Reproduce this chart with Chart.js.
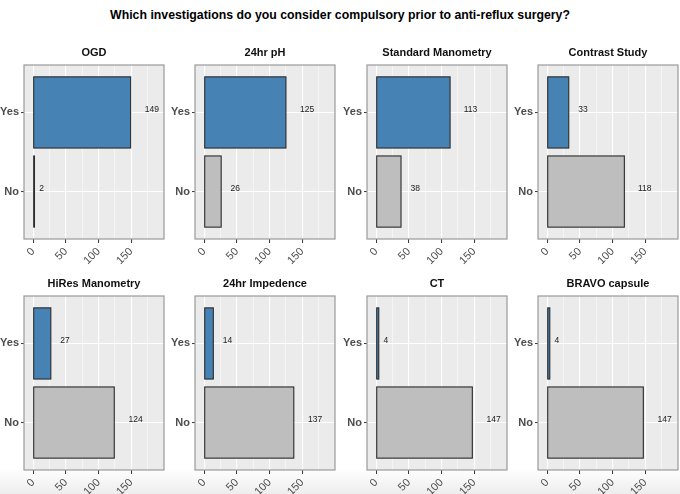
<!DOCTYPE html>
<html>
<head>
<meta charset="utf-8">
<script src="https://cdn.jsdelivr.net/npm/chart.js@4.4.1/dist/chart.umd.min.js"></script>
<style>
html,body{margin:0;padding:0;background:#fff;}
#wrap{position:relative;width:680px;height:494px;overflow:hidden;font-family:"Liberation Sans",Arial,sans-serif;}
#shade{position:absolute;left:0;right:0;bottom:0;height:26px;background:linear-gradient(rgba(0,0,0,0),rgba(0,0,0,0.07));}
#title{position:absolute;left:0;top:8px;width:680px;text-align:center;font-weight:bold;font-size:12.3px;color:#000;}
canvas{position:absolute;}
</style>
</head>
<body>
<div id="wrap">
  <div id="shade"></div>
  <div id="title">Which investigations do you consider compulsory prior to anti-reflux surgery?</div>
</div>
<script>
const chartTitle = 'Which investigations do you consider compulsory prior to anti-reflux surgery?';
const panels = ['OGD', '24hr pH', 'Standard Manometry', 'Contrast Study', 'HiRes Manometry', '24hr Impedence', 'CT', 'BRAVO capsule'];
const answers = ['Yes', 'No'];
const yesCounts = [149, 125, 113, 33, 27, 14, 4, 4];
const noCounts = [2, 26, 38, 118, 124, 137, 147, 147];
const xTickLabels = [0, 50, 100, 150];
const xGridValues = [0, 25, 50, 75, 100, 125, 150, 175];

const FONT = '"Liberation Sans", Arial, sans-serif';
const answerColors = ['#4682B4', '#BEBEBE'];

const panelPlugin = {
  id: 'panelDeco',
  beforeDraw(chart) {
    const a = chart.chartArea, c = chart.ctx;
    c.save();
    c.fillStyle = '#EBEBEB';
    c.fillRect(a.left, a.top, a.right - a.left, a.bottom - a.top);
    c.restore();
  },
  afterDatasetsDraw(chart) {
    const c = chart.ctx;
    const meta = chart.getDatasetMeta(0);
    c.save();
    // bar outlines (centered on the bar edges, like ggplot)
    c.strokeStyle = '#2b2b2b';
    c.lineWidth = 1.1;
    meta.data.forEach(el => {
      const p = el.getProps(['x', 'y', 'base', 'height'], true);
      const x0 = Math.min(p.base, p.x), x1 = Math.max(p.base, p.x);
      c.strokeRect(x0, p.y - p.height / 2, x1 - x0, p.height);
    });
    c.font = '8.5px ' + FONT;
    c.fillStyle = '#222';
    c.textAlign = 'left';
    c.textBaseline = 'middle';
    meta.data.forEach((el, k) => {
      const txt = String(chart.data.datasets[0].data[k].x);
      const w = c.measureText(txt).width;
      c.fillText(txt, el.x + w, el.y - 2.5);
    });
    c.restore();
  },
  afterDraw(chart) {
    const a = chart.chartArea, c = chart.ctx;
    c.save();
    c.strokeStyle = '#9a9a9a';
    c.lineWidth = 1.2;
    c.strokeRect(a.left, a.top, a.right - a.left, a.bottom - a.top);
    c.font = 'bold 11px ' + FONT;
    c.fillStyle = '#111';
    c.textAlign = 'center';
    c.textBaseline = 'middle';
    c.fillText(chart.options.plugins.panelDeco.title, (a.left + a.right) / 2, a.top - 12);
    c.restore();
  }
};

const wrap = document.getElementById('wrap');
const CW = 168, CH = 244;
panels.forEach((name, i) => {
  const col = i % 4, row = Math.floor(i / 4);
  const panelLeft = 24 + col * 171.35;
  const panelTop = 65 + row * 231;
  const cv = document.createElement('canvas');
  cv.width = CW; cv.height = CH;
  cv.style.left = (panelLeft - 24) + 'px';
  cv.style.top = (panelTop - 30) + 'px';
  cv.style.width = CW + 'px'; cv.style.height = CH + 'px';
  wrap.appendChild(cv);
  const counts = [yesCounts[i], noCounts[i]];
  new Chart(cv, {
    type: 'bar',
    data: {
      datasets: [{
        data: answers.map((a, k) => ({ x: counts[k], y: answers.length - k })),
        backgroundColor: answerColors,
        borderWidth: 0,
        barPercentage: 0.9,
        categoryPercentage: 1
      }]
    },
    options: {
      indexAxis: 'y',
      responsive: false,
      animation: false,
      devicePixelRatio: 1,
      layout: { padding: { top: 30, right: 4, left: 0, bottom: 0 } },
      plugins: { legend: { display: false }, tooltip: { enabled: false }, panelDeco: { title: name } },
      scales: {
        x: {
          type: 'linear', min: -14, max: 200,
          afterBuildTicks: s => { s.ticks = xGridValues.map(v => ({ value: v })); },
          afterFit: s => { s.height = CH - 30 - 174; },
          border: { display: false },
          grid: {
            color: '#ffffff',
            lineWidth: ctx => (xTickLabels.includes(ctx.tick && ctx.tick.value) ? 1.1 : 0.5),
            tickColor: ctx => (xTickLabels.includes(ctx.tick && ctx.tick.value) ? '#333' : 'rgba(0,0,0,0)'),
            tickWidth: 1,
            tickLength: 4
          },
          ticks: {
            autoSkip: false, minRotation: 45, maxRotation: 45, padding: 2,
            color: '#4d4d4d', font: { family: FONT, size: 11 },
            callback: v => (xTickLabels.includes(v) ? String(v) : '')
          }
        },
        y: {
          type: 'linear', min: 0.4, max: 2.6, offset: false,
          afterBuildTicks: s => { s.ticks = answers.map((a, k) => ({ value: answers.length - k })); },
          afterFit: s => { s.width = 24; },
          border: { display: false },
          grid: { offset: false, color: '#ffffff', lineWidth: 1.1, tickColor: '#333', tickWidth: 1, tickLength: 3 },
          ticks: {
            padding: 2, color: '#4d4d4d', font: { family: FONT, size: 11, weight: 'bold' },
            callback: v => answers[answers.length - v]
          }
        }
      }
    },
    plugins: [panelPlugin]
  });
});
</script>
</body>
</html>
